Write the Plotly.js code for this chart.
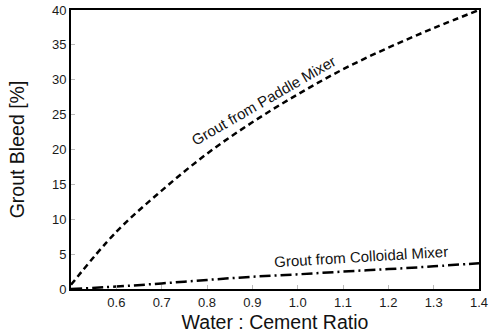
<!DOCTYPE html>
<html>
<head>
<meta charset="utf-8">
<script src="https://cdn.plot.ly/plotly-3.0.1.min.js"></script>
<style>html,body{margin:0;padding:0;background:#fff;}#chart{width:491px;height:336px;}</style>
</head>
<body>
<div id="chart"></div>
<script>
var wcRatio = [0.5, 0.6, 0.7, 0.8, 0.9, 1.0, 1.1, 1.2, 1.3, 1.4];
var paddleBleed = [0.6, 8.2, 14.1, 19.4, 23.9, 27.9, 31.5, 34.6, 37.4, 40.0];
var colloidalBleed = [0.0, 0.35, 0.8, 1.3, 1.75, 2.1, 2.5, 2.85, 3.25, 3.7];
var xTicks = [0.6, 0.7, 0.8, 0.9, 1.0, 1.1, 1.2, 1.3, 1.4];
var xTickText = ["0.6", "0.7", "0.8", "0.9", "1.0", "1.1", "1.2", "1.3", "1.4"];
var yTicks = [0, 5, 10, 15, 20, 25, 30, 35, 40];

var font = "Liberation Sans, Arial, sans-serif";
var traces = [
  {x: wcRatio, y: paddleBleed, mode: "lines", line: {color: "#000", width: 2.5, dash: "6px,4px", shape: "spline"}, showlegend: false, hoverinfo: "skip"},
  {x: wcRatio, y: colloidalBleed, mode: "lines", line: {color: "#000", width: 2.5, dash: "11px,4px,2px,4px", shape: "spline"}, showlegend: false, hoverinfo: "skip"}
];
var layout = {
  width: 491, height: 336,
  margin: {l: 71, r: 12, t: 10, b: 47},
  paper_bgcolor: "#fff", plot_bgcolor: "#fff",
  font: {family: font, color: "#222"},
  xaxis: {
    range: [0.5, 1.4], tickvals: xTicks, ticktext: xTickText,
    ticks: "inside", ticklen: 4, tickcolor: "#bbb", tickwidth: 1,
    showline: true, linecolor: "#000", linewidth: 2, mirror: true,
    showgrid: false, zeroline: false,
    tickfont: {size: 13, color: "#1a1a1a"},
    title: {text: "Water : Cement Ratio", font: {size: 19.5, color: "#111"}, standoff: 7}
  },
  yaxis: {
    range: [0, 40], tickvals: yTicks,
    ticks: "inside", ticklen: 4, tickcolor: "#bbb", tickwidth: 1,
    showline: true, linecolor: "#000", linewidth: 2, mirror: true,
    showgrid: false, zeroline: false,
    tickfont: {size: 13, color: "#1a1a1a"},
    title: {text: "Grout Bleed [%]", font: {size: 19.5, color: "#111"}, standoff: 22}
  },
  annotations: [
    {x: 0.925, y: 27.0, xref: "x", yref: "y", text: "Grout from Paddle Mixer", showarrow: false, textangle: -30, font: {size: 15, color: "#111", family: font}},
    {x: 1.14, y: 4.7, xref: "x", yref: "y", text: "Grout from Colloidal Mixer", showarrow: false, textangle: -3.5, font: {size: 15, color: "#111", family: font}}
  ]
};
Plotly.newPlot("chart", traces, layout, {staticPlot: true, displayModeBar: false});
</script>
</body>
</html>
